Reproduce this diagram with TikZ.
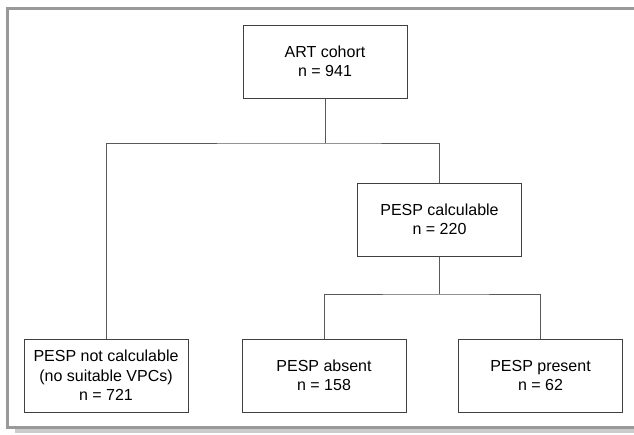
\documentclass[tikz,border=0pt]{standalone}
\usepackage{fontspec}
\setmainfont{Liberation Sans}
\usepackage{tikz}
\usetikzlibrary{positioning}
\tikzstyle{cbox} = [rectangle, draw=black!75, line width=1pt, fill=white, text centered, align=center, minimum width=164pt, minimum height=73pt, inner sep=2pt, font=\fontsize{16pt}{19.5pt}\selectfont]
\tikzstyle{link} = [draw=black!65, line width=0.9pt]
\tikzstyle{frame} = [draw=black!40, line width=3pt]
\tikzstyle{shade} = [draw=black!20, line width=4pt]

\begin{document}
\begin{tikzpicture}
	\useasboundingbox (0pt,0pt) rectangle (634pt,-434pt);
	% page frame
	\draw [shade] (15pt,-430.5pt) -- (634pt,-430.5pt);
	\draw [frame] (634pt,-8.5pt) -- (7.5pt,-8.5pt) -- (7.5pt,-427pt) -- (634pt,-427pt);

	% place nodes
	\node [cbox] (N1) at (325pt,-61.5pt) {ART cohort\\n = 941};
	\node [cbox, below of=N1, node distance=158pt, xshift=114.5pt] (N2) {PESP calculable\\n = 220};
	\node [cbox, below of=N2, node distance=156pt, xshift=-115.5pt] (N4) {PESP absent\\n = 158};
	\node [cbox, left of=N4, node distance=218pt] (N3) {PESP not calculable\\(no suitable VPCs)\\n = 721};
	\node [cbox, right of=N4, node distance=216.5pt] (N5) {PESP present\\n = 62};
	\coordinate [below of=N1, node distance=81.5pt] (J1);
	\coordinate [below of=N2, node distance=74.5pt] (J2);

	% draw edges
	\path [link] (N1) -- (J1);
	\path [link] (N3) |- (J1) -| (N2);
	\path [link] (N2) -- (J2);
	\path [link] (N4) |- (J2) -| (N5);
\end{tikzpicture}
\end{document}
